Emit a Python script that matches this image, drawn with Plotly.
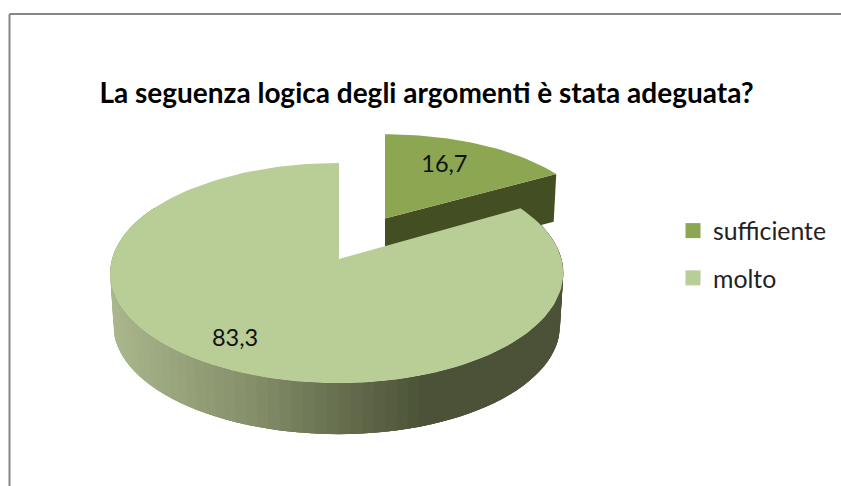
import math
import plotly.graph_objects as go

TITLE = "La seguenza logica degli argomenti è stata adeguata?"
categories = ["sufficiente", "molto"]
values = [16.7, 83.3]

W, H = 841, 486
FONT = "Lato"
KP = 0.127            # perspective strength
SMALL = dict(ax=385, ay=218.5, Rl=210, Rr=210, Rv=95, dy=47, sc=0.985)
BIG = dict(ax=339, ay=259, Rl=227, Rr=222.5, Rv=108.3, dy=53, sc=0.985)
COL_SMALL, COL_BIG, COL_CUT = "#8CA652", "#B9CD96", "#434E23"
WALL_STOPS = [(110, (170, 183, 140)), (250, (133, 143, 106)), (340, (102, 111, 78)),
              (425, (75, 82, 55)), (565, (75, 82, 55))]


def px(x):
    return x / W


def py(y):
    return 1 - y / H


def proj(g, deg, rho=1.0, lower=False):
    t = math.radians(deg)
    u, v = rho * math.sin(t), rho * math.cos(t)
    s = 1 / (1 + KP * v)
    k = g["sc"] if lower else 1
    r = g["Rl"] if u < 0 else g["Rr"]
    return (g["ax"] + r * u * s * k,
            g["ay"] + (g["dy"] if lower else 0) - g["Rv"] * v * s * k)


def arc(g, a0, a1, n, lower=False):
    return [proj(g, a0 + (a1 - a0) * i / n, lower=lower) for i in range(n + 1)]


def wall_color(x):
    for (x0, c0), (x1, c1) in zip(WALL_STOPS, WALL_STOPS[1:]):
        if x <= x1:
            f = max(0, (x - x0) / (x1 - x0))
            return "rgb(%d,%d,%d)" % tuple(round(a + (b - a) * f) for a, b in zip(c0, c1))
    return "rgb(75,82,55)"


def poly(pts, color):
    return go.Scatter(x=[p[0] for p in pts], y=[p[1] for p in pts], mode="lines",
                      fill="toself", fillcolor=color, line=dict(color=color, width=0),
                      hoverinfo="skip", showlegend=False)


split = values[0] / sum(values) * 360
fig = go.Figure()

# exploded small slice: cut face then top
fig.add_trace(poly([proj(SMALL, 0, 0), proj(SMALL, split), proj(SMALL, split, lower=True),
                    proj(SMALL, 0, 0, lower=True)], COL_CUT))
fig.add_trace(poly([proj(SMALL, 0, 0)] + arc(SMALL, 0, split, 40), COL_SMALL))

# big slice: gradient outer wall painted back to front with overlap so no seams show, then top
END = 300
N = 90
for i in range(N):
    a0 = split + (END - split) * i / N
    a1 = min(END, a0 + 3 * (END - split) / N)
    mid = split + (END - split) * (i + 0.5) / N
    pts = arc(BIG, a0, a1, 3) + arc(BIG, a1, a0, 3, lower=True)
    fig.add_trace(poly(pts, wall_color(proj(BIG, mid)[0])))
fig.add_trace(poly([proj(BIG, 0, 0)] + arc(BIG, split, 360, 160), COL_BIG))

# value labels
for g, deg, rho, val in [(SMALL, 27, 0.67, values[0]), (BIG, 211.5, 0.80, values[1])]:
    x, y = proj(g, deg, rho)
    fig.add_trace(go.Scatter(x=[x], y=[y], mode="text", text=[str(val).replace(".", ",")],
                             textfont=dict(family=FONT, size=23.5, color="#111111"),
                             textposition="middle center", hoverinfo="skip", showlegend=False))

# legend
for name, color in zip(categories, [COL_SMALL, COL_BIG]):
    fig.add_trace(go.Scatter(x=[None], y=[None], mode="markers", name=name, legendgroup=name,
                             marker=dict(symbol="square", size=15, color=color)))

fig.update_layout(
    width=W, height=H, margin=dict(l=0, r=0, t=0, b=0),
    paper_bgcolor="white", plot_bgcolor="white",
    xaxis=dict(range=[0, W], visible=False, fixedrange=True),
    yaxis=dict(range=[H, 0], visible=False, fixedrange=True),
    title=dict(text=f"<b>{TITLE}</b>", x=px(426.5), xanchor="center", y=py(93.5), yanchor="middle",
               font=dict(family=FONT, size=28, color="#000000")),
    legend=dict(x=px(673), y=py(208), xanchor="left", yanchor="top", traceorder="grouped",
                tracegroupgap=12, font=dict(family=FONT, size=24.8, color="#222222"),
                bgcolor="rgba(0,0,0,0)"),
    shapes=[
        dict(type="line", xref="x", yref="y", x0=9.5, y0=14, x1=W, y1=14, line=dict(color="#868686", width=2)),
        dict(type="line", xref="x", yref="y", x0=9.5, y0=14, x1=9.5, y1=H, line=dict(color="#868686", width=2)),
    ],
)
fig.write_html("out.html", config={"displayModeBar": False},
               post_script="document.body.style.margin='0';document.body.style.overflow='hidden';")
